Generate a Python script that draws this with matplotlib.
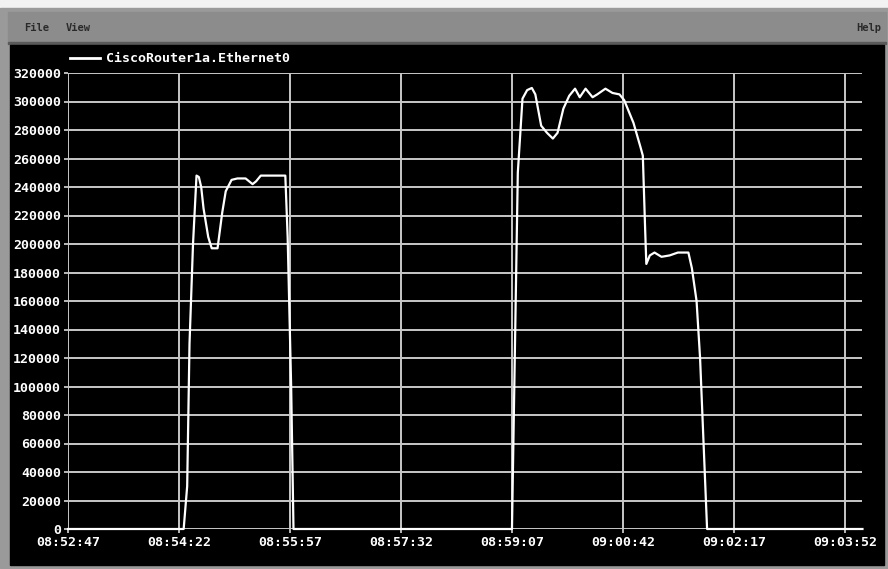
import matplotlib
matplotlib.use("Agg")
import matplotlib.pyplot as plt
from matplotlib.patches import Rectangle
from matplotlib.ticker import FixedLocator

# seconds after 08:52:47 and bytes/s
secs = [0, 99, 102, 104, 107, 110, 112, 114, 116, 120, 123, 128, 132, 135, 140, 145, 152,
        158, 161, 165, 186, 188, 191, 193, 380, 383, 385, 389, 393, 397, 400, 405, 410,
        415, 419, 424, 429, 434, 438, 443, 449, 453, 460, 466, 472, 476, 484, 490, 492,
        494, 495, 498, 502, 508, 515, 522, 531, 534, 538, 541, 544, 547, 680]
vals = [0, 0, 30000, 130000, 200000, 248000, 247000, 240000, 225000, 205000, 197000,
        197000, 222000, 237000, 245000, 246000, 246000, 242000, 244000, 248000, 248000,
        205000, 100000, 0, 0, 150000, 250000, 302000, 308000, 309500, 305000, 283000,
        278000, 274000, 278000, 295000, 304000, 309000, 303000, 309000, 303000, 305000,
        309000, 306000, 305000, 301000, 285000, 268000, 262000, 210000, 186000, 192000,
        194000, 191000, 192000, 194000, 194000, 183000, 160000, 120000, 60000, 0, 0]

tick_secs = [0, 95, 190, 285, 380, 475, 570, 665]
tick_labels = ["08:52:47", "08:54:22", "08:55:57", "08:57:32",
               "08:59:07", "09:00:42", "09:02:17", "09:03:52"]
y_ticks = list(range(0, 320001, 20000))
series_name = "CiscoRouter1a.Ethernet0"

W, H = 888, 569
fig = plt.figure(figsize=(W / 100, H / 100), dpi=100, facecolor="#f2f2f2")

def px(x, y, w, h):
    return [x / W, 1 - (y + h) / H, w / W, h / H]

bg = fig.add_axes([0, 0, 1, 1])
bg.set_xlim(0, W)
bg.set_ylim(H, 0)
bg.axis("off")
bg.add_patch(Rectangle((0, 8), W, 560, color="#9a9a9a"))
bg.add_patch(Rectangle((8, 12), W - 10, 31, color="#8c8c8c"))
bg.add_patch(Rectangle((8, 42), W - 10, 2, color="#5a5a5a"))
bg.add_patch(Rectangle((10, 45), W - 14, 520, color="black"))
mono = dict(family="DejaVu Sans Mono", fontweight="bold")
bg.text(24, 28, "File", color="#2a2a2a", fontsize=7.5, va="center", **mono)
bg.text(66, 28, "View", color="#2a2a2a", fontsize=7.5, va="center", **mono)
bg.text(881, 28, "Help", color="#2a2a2a", fontsize=7.5, va="center", ha="right", **mono)
bg.plot([70, 100], [58, 58], color="white", lw=2)
bg.text(106, 58, series_name, color="white", fontsize=9.5, va="center", **mono)

ax = fig.add_axes(px(68, 73, 794, 456))
ax.set_facecolor("black")
ax.set_xlim(0, 679.6)
ax.set_ylim(0, 320000)
for s in ax.spines.values():
    s.set_visible(False)
ax.xaxis.set_major_locator(FixedLocator(tick_secs))
ax.set_xticklabels(tick_labels)
ax.set_yticks(y_ticks)
ax.set_yticklabels([str(v) for v in y_ticks])
ax.tick_params(colors="#d8d8d8", labelcolor="white", labelsize=9.5, length=3, width=1.2, pad=2)
for lab in ax.get_xticklabels() + ax.get_yticklabels():
    lab.set_family("DejaVu Sans Mono")
    lab.set_fontweight("bold")
ax.grid(True, color="#c8c8c8", lw=1.4)
ax.set_axisbelow(True)
ax.plot(secs, vals, color="white", lw=1.6, clip_on=False)

fig.savefig("out.png", dpi=100, facecolor=fig.get_facecolor())
